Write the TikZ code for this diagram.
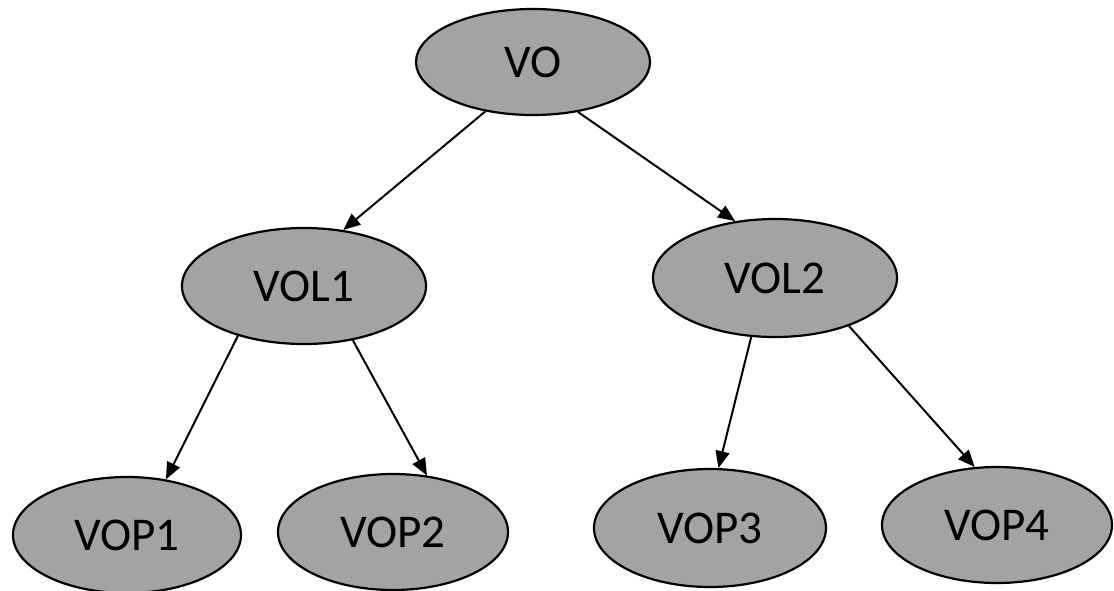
\documentclass[tikz,border=0pt]{standalone}
\usepackage{fontspec}
\setmainfont{Carlito}
\usetikzlibrary{shapes.geometric,arrows.meta}

\definecolor{nodefill}{gray}{0.64}

\tikzset{
  vnode/.style={ellipse, draw=black, line width=2.2pt, fill=nodefill,
    inner sep=0pt, font=\fontsize{47}{50}\selectfont},
  link/.style={line width=2pt, -{Triangle[length=17pt,width=14pt]}}
}

\begin{document}
\begin{tikzpicture}[x=1pt,y=-1pt]
  \useasboundingbox (0,0) rectangle (1114,590);

  % tree levels: root, two layers, four planes
  \node[vnode, minimum width=234pt, minimum height=106pt] (VO)   at (533,62)  {VO};
  \node[vnode, minimum width=244pt, minimum height=116pt] (VOL1) at (304,286) {VOL1};
  \node[vnode, minimum width=244pt, minimum height=118pt] (VOL2) at (775,278) {VOL2};
  \node[vnode, minimum width=228pt, minimum height=116pt] (VOP1) at (127,535) {VOP1};
  \node[vnode, minimum width=230pt, minimum height=116pt] (VOP2) at (393,532) {VOP2};
  \node[vnode, minimum width=232pt, minimum height=118pt] (VOP3) at (710,528) {VOP3};
  \node[vnode, minimum width=230pt, minimum height=116pt] (VOP4) at (997,525) {VOP4};

  % parent-to-child connectors
  \draw[link] (VO.226)   -- (VOL1.55);
  \draw[link] (VO.312)   -- (VOL2.125);
  \draw[link] (VOL1.217) -- (VOP1.55);
  \draw[link] (VOL1.312) -- (VOP2.59);
  \draw[link] (VOL2.248) -- (VOP3.82);
  \draw[link] (VOL2.327) -- (VOP4.111);
\end{tikzpicture}
\end{document}
